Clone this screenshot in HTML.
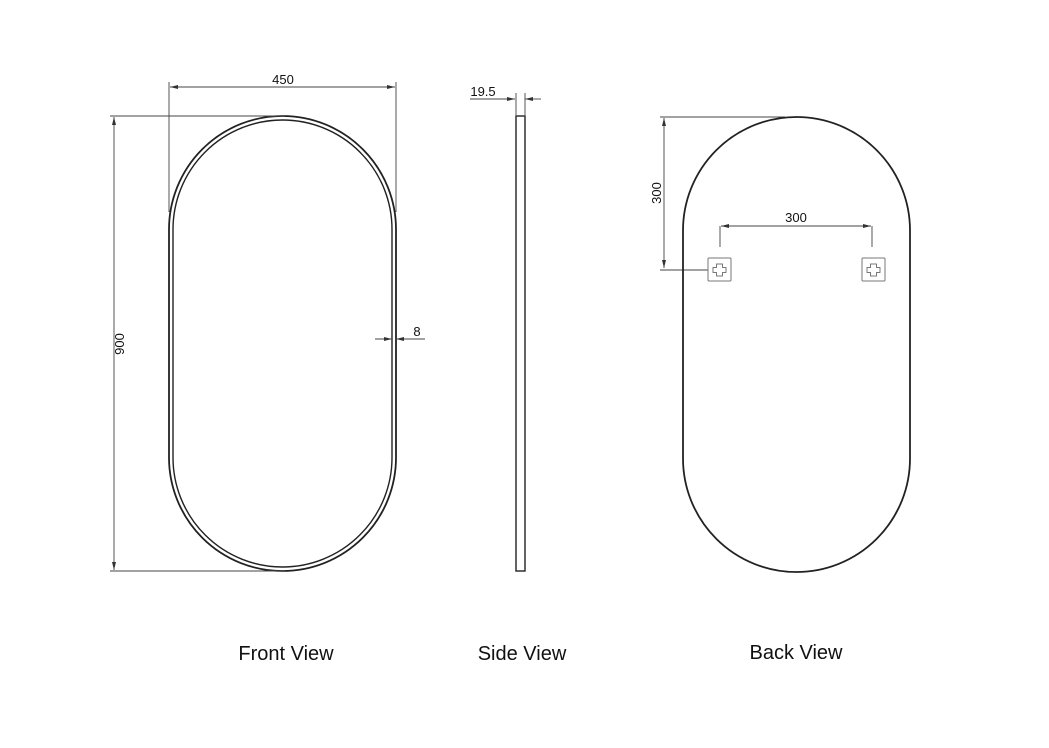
<!DOCTYPE html>
<html><head><meta charset="utf-8"><style>
html,body{margin:0;padding:0;background:#fff;}
svg{display:block;}
text{font-family:"Liberation Sans",sans-serif;fill:#111;}
</style></head><body>
<svg width="1049" height="748" viewBox="0 0 1049 748" xmlns="http://www.w3.org/2000/svg">
<defs>
<marker id="a" viewBox="0 0 8 4" refX="8" refY="2" markerWidth="8" markerHeight="4" orient="auto-start-reverse" markerUnits="userSpaceOnUse">
<path d="M0,0 L8,2 L0,4 z" fill="#333" stroke="none"/></marker>
</defs>
<g fill="none" stroke="#222">
<rect x="169" y="116" width="227" height="455" rx="113.5" ry="113.5" stroke-width="1.8"/>
<rect x="173" y="120" width="219" height="447" rx="109.5" ry="109.5" stroke-width="1.4"/>
<g stroke="#444" stroke-width="0.9">
<line x1="169" y1="82" x2="169" y2="212"/>
<line x1="396" y1="82" x2="396" y2="212"/>
<line x1="170" y1="87" x2="395" y2="87" marker-start="url(#a)" marker-end="url(#a)"/>
<line x1="110" y1="116" x2="285" y2="116"/>
<line x1="110" y1="571" x2="285" y2="571"/>
<line x1="114" y1="117" x2="114" y2="570" marker-start="url(#a)" marker-end="url(#a)"/>
<line x1="375" y1="339" x2="392" y2="339" marker-end="url(#a)"/>
<line x1="425" y1="339" x2="396" y2="339" marker-end="url(#a)"/>
<line x1="470" y1="99" x2="515" y2="99" marker-end="url(#a)"/>
<line x1="541" y1="99" x2="525" y2="99" marker-end="url(#a)"/>
<line x1="516" y1="93" x2="516" y2="115"/>
<line x1="525" y1="93" x2="525" y2="115"/>
<line x1="660" y1="117" x2="785" y2="117"/>
<line x1="664" y1="118" x2="664" y2="268" marker-start="url(#a)" marker-end="url(#a)"/>
<line x1="660" y1="270" x2="708" y2="270"/>
<line x1="720" y1="226" x2="720" y2="247"/>
<line x1="872" y1="226" x2="872" y2="247"/>
<line x1="721" y1="226" x2="871" y2="226" marker-start="url(#a)" marker-end="url(#a)"/>
</g>
<rect x="516" y="116" width="9" height="455" stroke-width="1.4"/>
<rect x="683" y="117" width="227" height="455" rx="113.5" ry="113.5" stroke-width="1.8"/>
<g stroke="#777" stroke-width="1">
<rect x="708" y="258" width="23" height="23" rx="1"/>
<rect x="862" y="258" width="23" height="23" rx="1"/>
<path d="M716.5,264 h6 v3.5 h3.5 v5 h-3.5 v3.5 h-6 v-3.5 h-3.5 v-5 h3.5 z" stroke-linejoin="round"/>
<path d="M870.5,264 h6 v3.5 h3.5 v5 h-3.5 v3.5 h-6 v-3.5 h-3.5 v-5 h3.5 z" stroke-linejoin="round"/>
</g>
</g>
<text x="283" y="84" font-size="13" text-anchor="middle">450</text>
<text x="0" y="0" font-size="13" text-anchor="middle" transform="translate(124,344) rotate(-90)">900</text>
<text x="417" y="336" font-size="13" text-anchor="middle">8</text>
<text x="483" y="96" font-size="13" text-anchor="middle">19.5</text>
<text x="0" y="0" font-size="13" text-anchor="middle" transform="translate(661,193) rotate(-90)">300</text>
<text x="796" y="222" font-size="13" text-anchor="middle">300</text>
<text x="286" y="660" font-size="20" text-anchor="middle">Front View</text>
<text x="522" y="660" font-size="20" text-anchor="middle">Side View</text>
<text x="796" y="659" font-size="20" text-anchor="middle">Back View</text>
</svg>
</body></html>
